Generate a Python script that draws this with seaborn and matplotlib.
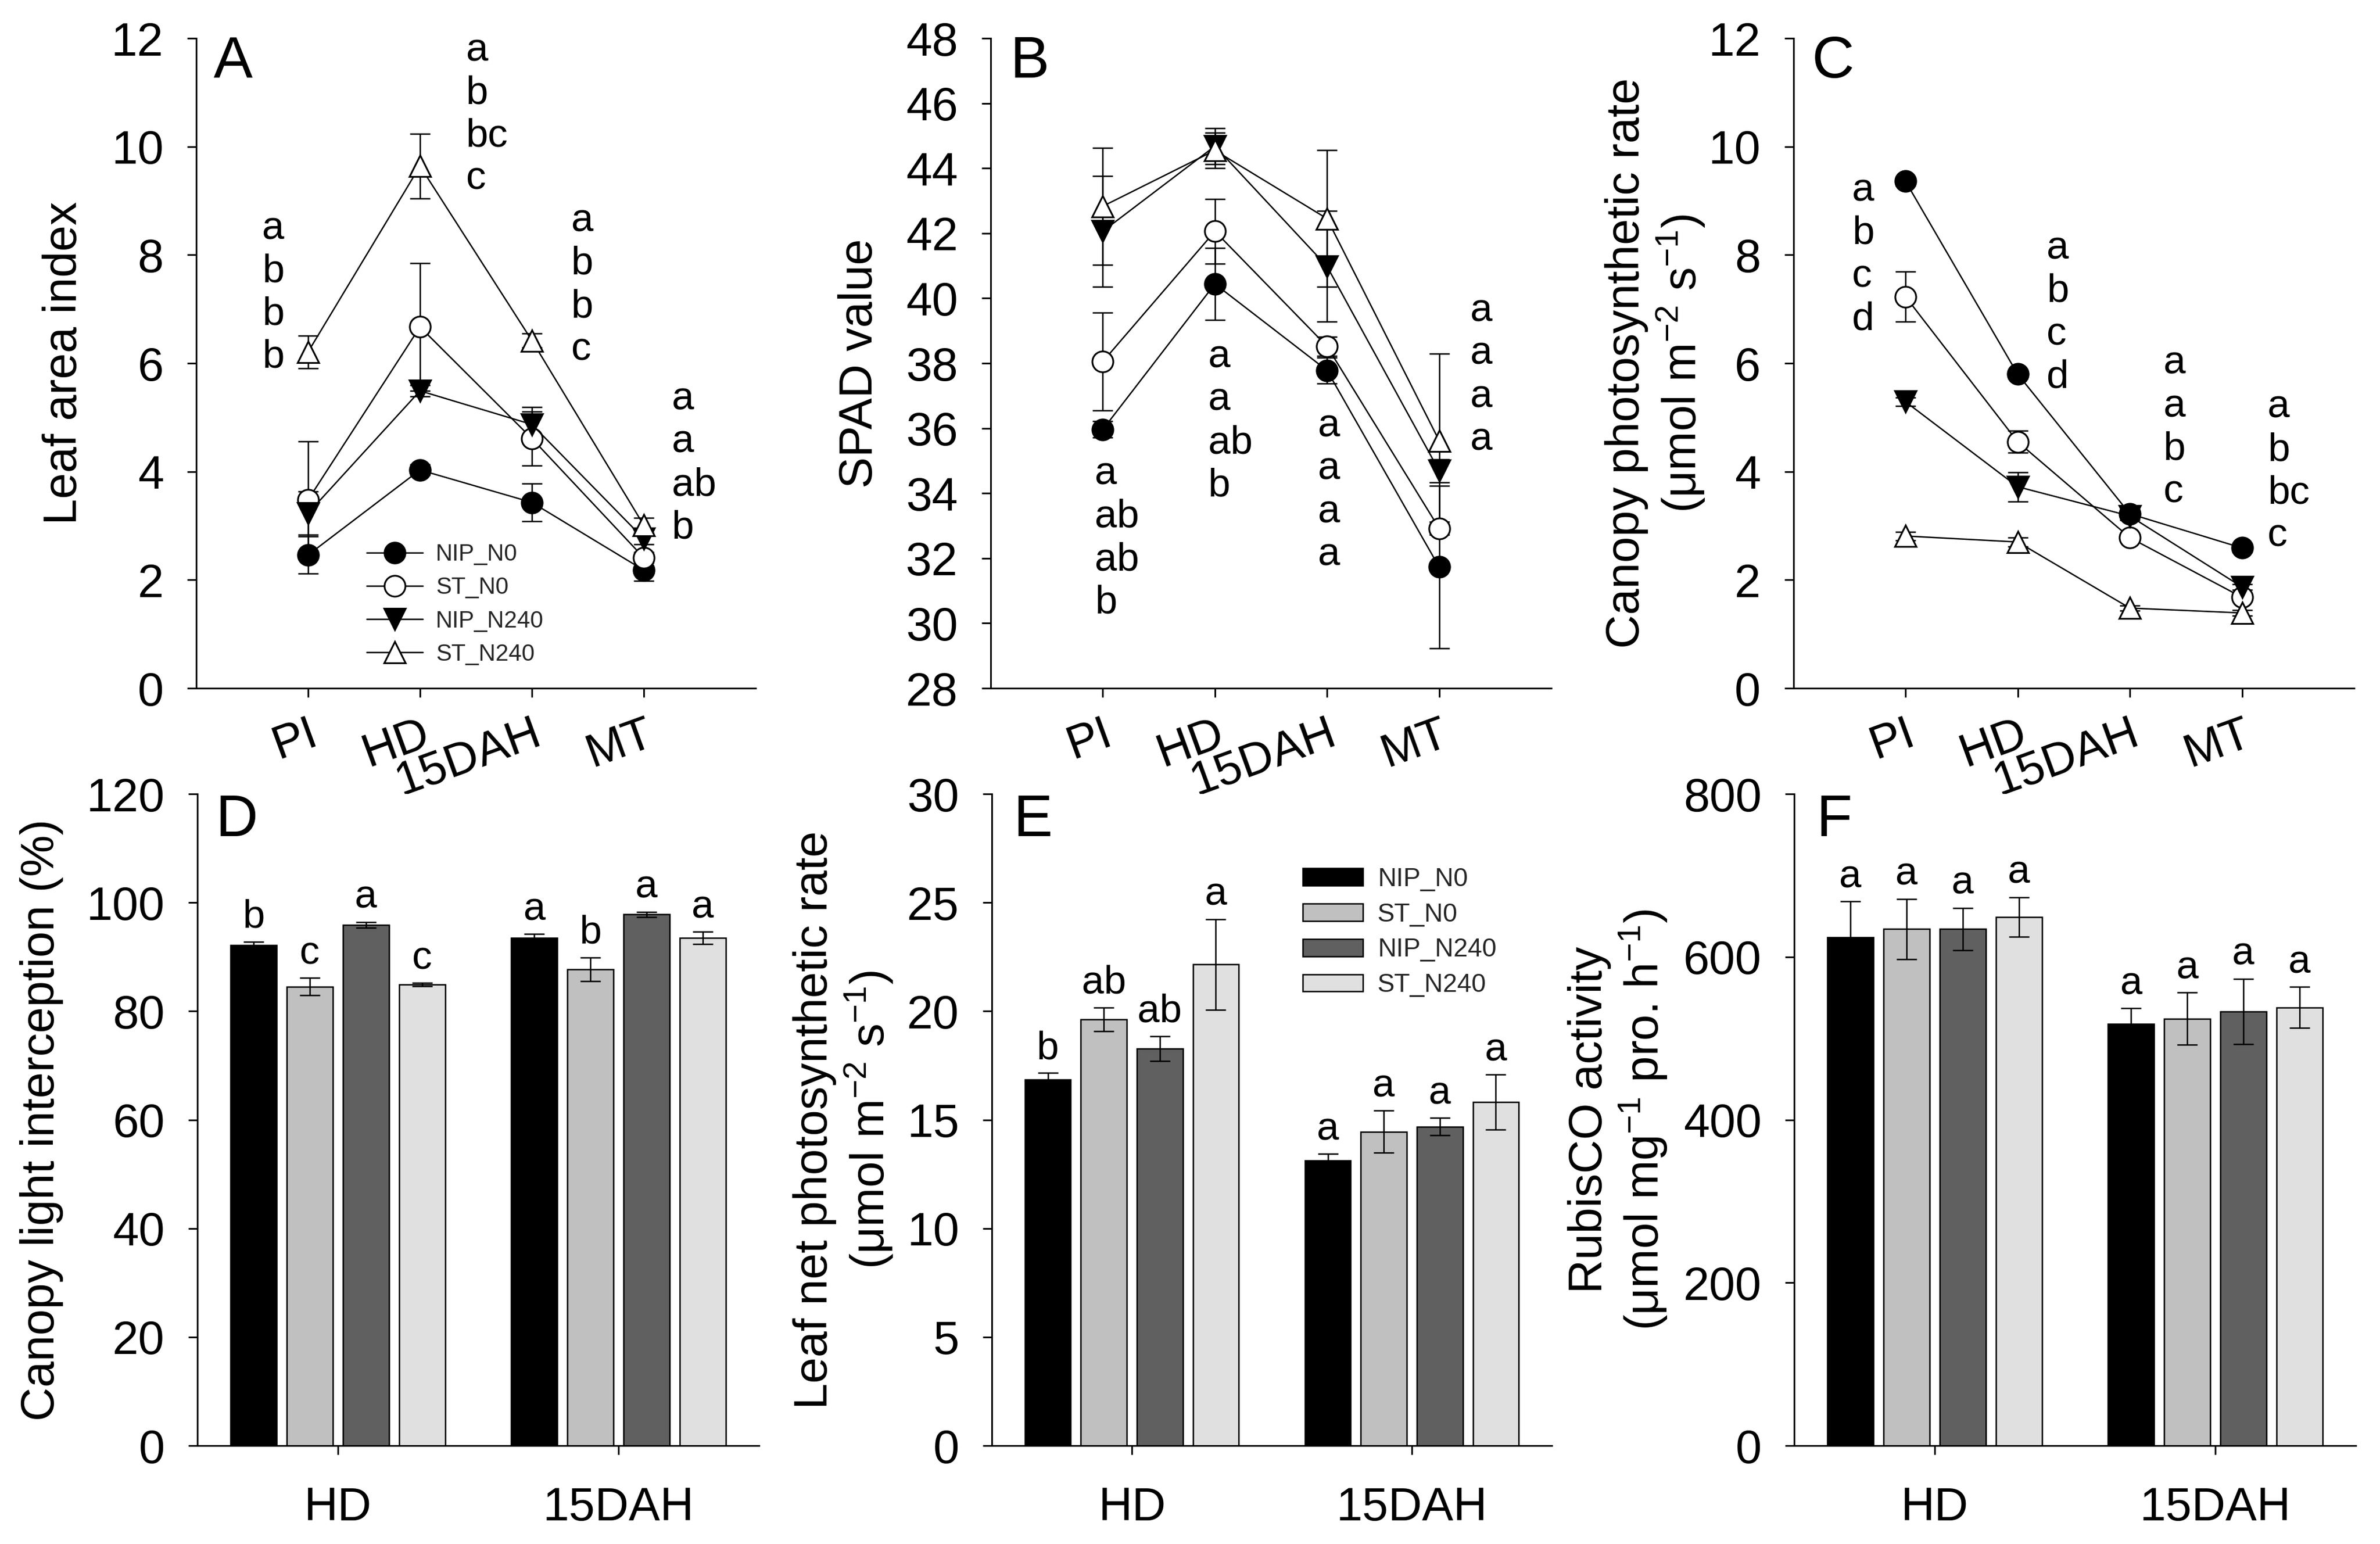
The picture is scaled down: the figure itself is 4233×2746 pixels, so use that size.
import numpy as np
import pandas as pd
import matplotlib
matplotlib.use('Agg')
import matplotlib.pyplot as plt
import seaborn as sns
from matplotlib.lines import Line2D
from matplotlib.patches import Patch
from matplotlib.container import BarContainer

sns.set_theme(style='ticks')
plt.rcParams['font.family'] = ['Liberation Sans', 'DejaVu Sans']
plt.rcParams['mathtext.fontset'] = 'custom'
plt.rcParams['mathtext.rm'] = 'Liberation Sans'
plt.rcParams['mathtext.it'] = 'Liberation Sans:italic'
plt.rcParams['mathtext.bf'] = 'Liberation Sans:bold'
plt.rcParams['axes.unicode_minus'] = True

# ---------------- data ----------------
treatments = ['NIP_N0', 'ST_N0', 'NIP_N240', 'ST_N240']
stages = ['PI', 'HD', '15DAH', 'MT']
bar_stages = ['HD', '15DAH']

# Panel A: leaf area index (rows = treatments, cols = stages)
lai_mean = [[2.46, 4.03, 3.43, 2.18],
            [3.48, 6.67, 4.61, 2.41],
            [3.23, 5.49, 4.87, 2.76],
            [6.21, 9.64, 6.42, 3.01]]
lai_err = [[0.34, 0.10, 0.35, 0.20],
           [1.08, 1.18, 0.50, 0.10],
           [0.40, 0.10, 0.32, 0.10],
           [0.30, 0.60, 0.13, 0.14]]
lai_letters = [['a', 'b', 'b', 'b'], ['a', 'b', 'bc', 'c'],
               ['a', 'b', 'b', 'c'], ['a', 'a', 'ab', 'b']]

# Panel B: SPAD value
spad_mean = [[35.96, 40.44, 37.78, 31.73],
             [38.05, 42.06, 38.52, 32.92],
             [42.06, 44.68, 40.98, 34.69],
             [42.83, 44.55, 42.45, 35.62]]
spad_err = [[0.25, 1.10, 0.40, 2.50],
            [1.50, 1.00, 0.30, 0.20],
            [1.70, 0.55, 1.70, 0.35],
            [1.80, 0.55, 2.10, 2.67]]
spad_letters = [['a', 'ab', 'ab', 'b'], ['a', 'a', 'ab', 'b'],
                ['a', 'a', 'a', 'a'], ['a', 'a', 'a', 'a']]

# Panel C: canopy photosynthetic rate
cpr_mean = [[9.36, 5.80, 3.22, 2.59],
            [7.23, 4.55, 2.78, 1.68],
            [5.29, 3.72, 3.18, 1.87],
            [2.81, 2.70, 1.48, 1.39]]
cpr_err = [[0.08, 0.08, 0.08, 0.08],
           [0.46, 0.20, 0.05, 0.05],
           [0.08, 0.27, 0.08, 0.05],
           [0.08, 0.08, 0.05, 0.05]]
cpr_letters = [['a', 'b', 'c', 'd'], ['a', 'b', 'c', 'd'],
               ['a', 'a', 'b', 'c'], ['a', 'b', 'bc', 'c']]

# Panel D: canopy light interception (rows = treatments, cols = HD, 15DAH)
cli_mean = [[92.1, 93.5], [84.5, 87.7], [95.9, 97.8], [84.9, 93.5]]
cli_err = [[0.7, 0.7], [1.6, 2.2], [0.5, 0.5], [0.3, 1.1]]
cli_letters = [['b', 'a'], ['c', 'b'], ['a', 'a'], ['c', 'a']]

# Panel E: leaf net photosynthetic rate
pn_mean = [[16.85, 13.13], [19.62, 14.45], [18.28, 14.68], [22.15, 15.81]]
pn_err = [[0.30, 0.30], [0.55, 0.97], [0.57, 0.40], [2.08, 1.27]]
pn_letters = [['b', 'a'], ['ab', 'a'], ['ab', 'a'], ['a', 'a']]

# Panel F: RubisCO activity
rub_mean = [[624, 518], [634, 524], [634, 533], [649, 538]]
rub_err = [[44, 19], [37, 32], [26, 40], [24, 25]]
rub_letters = [['a', 'a'], ['a', 'a'], ['a', 'a'], ['a', 'a']]

# ---------------- styles / layout ----------------
bar_colors = ['#000000', '#C0C0C0', '#606060', '#E0E0E0']
line_markers = ['o', 'o', 'v', '^']
marker_faces = ['black', 'white', 'black', 'white']

TICK_FS = 20
LABEL_FS = 20
PANEL_FS = 25
LETTER_FS = 17
LW = 0.6

W, H = 4233, 2746
fig = plt.figure(figsize=(W / 300, H / 300), dpi=300)

def px_axes(l, t, r, b):
    return fig.add_axes([l / W, 1 - b / H, (r - l) / W, (b - t) / H])

axA = px_axes(349, 68, 1344, 1224)
axB = px_axes(1762, 68, 2759, 1224)
axC = px_axes(3189.5, 68, 4187, 1224)
axD = px_axes(351, 1412, 1350, 2571)
axE = px_axes(1764, 1412, 2760, 2571)
axF = px_axes(3191, 1412, 4190, 2571)


def style_axes(ax):
    sns.despine(ax=ax)
    for s in ['left', 'bottom']:
        ax.spines[s].set_linewidth(0.7)
        ax.spines[s].set_color('black')
    ax.tick_params(axis='both', direction='out', length=3.9, width=0.7,
                   colors='black', labelsize=TICK_FS)
    ax.tick_params(axis='y', pad=10)
    ax.set_facecolor('white')
    ax.grid(False)


def add_panel_letter(ax, panel):
    ax.text(panel[1], panel[2], panel[0], transform=ax.transAxes,
            fontsize=PANEL_FS, va='top', ha='left', color='black')


def line_panel(ax, means, errs, letters, letter_xy, ylim, yticks, ylabel,
               panel, ylabel_x, legend=False):
    xpos = np.arange(1, len(stages) + 1)
    for i, t in enumerate(treatments):
        ax.errorbar(xpos, means[i], yerr=errs[i], fmt='none', ecolor='black',
                    elinewidth=LW, capsize=4.4, capthick=LW, zorder=1.5)
        sns.lineplot(x=xpos, y=means[i], ax=ax, color='black', linewidth=LW,
                     marker=line_markers[i], markersize=8.9,
                     markerfacecolor=marker_faces[i], markeredgecolor='black',
                     markeredgewidth=0.75, zorder=2 + i * 0.1, legend=False)
    style_axes(ax)
    ax.set_xlim(0, 5)
    ax.set_ylim(*ylim)
    ax.set_yticks(yticks)
    ax.set_xticks(xpos)
    ax.set_xticklabels(stages, rotation=20, ha='right', va='top',
                       rotation_mode='anchor')
    ax.tick_params(axis='x', pad=6)
    ax.set_xlabel('')
    ax.set_ylabel(ylabel, fontsize=LABEL_FS, color='black', linespacing=1.15)
    ax.yaxis.set_label_coords(ylabel_x, 0.5)
    add_panel_letter(ax, panel)
    for (lx, ly), col in zip(letter_xy, letters):
        for k, s in enumerate(col):
            ax.annotate(s, (lx, ly), xytext=(0, -18.3 * k),
                        textcoords='offset points', ha='left', va='center',
                        fontsize=LETTER_FS, color='black')
    if legend:
        handles = [Line2D([], [], color='black', linewidth=LW,
                          marker=line_markers[i], markersize=8.9,
                          markerfacecolor=marker_faces[i],
                          markeredgecolor='black', markeredgewidth=0.75)
                   for i in range(len(treatments))]
        ax.legend(handles, treatments, loc='upper left',
                  bbox_to_anchor=(0.3045, 0.223), frameon=False, fontsize=10,
                  handlelength=2.4, handletextpad=0.55, labelspacing=0.46,
                  borderpad=0, borderaxespad=0)


def bar_panel(ax, means, errs, letters, ylim, yticks, ylabel, panel,
              ylabel_x, legend=False):
    rows = []
    for i, t in enumerate(treatments):
        for j, s in enumerate(bar_stages):
            rows.append({'stage': s, 'treatment': t, 'value': means[i][j]})
    df = pd.DataFrame(rows)
    sns.barplot(data=df, x='stage', y='value', hue='treatment',
                order=bar_stages, hue_order=treatments,
                palette=dict(zip(treatments, bar_colors)), saturation=1,
                edgecolor='black', linewidth=LW, errorbar=None,
                width=0.8, gap=0.18, ax=ax, legend=False)
    bar_conts = [c for c in ax.containers if isinstance(c, BarContainer)]
    for i, cont in enumerate(bar_conts):
        bars = sorted([b for b in cont if b is not None], key=lambda b: b.get_x())
        xs = [b.get_x() + b.get_width() / 2 for b in bars]
        ys = [b.get_height() for b in bars]
        ax.errorbar(xs, ys, yerr=errs[i], fmt='none', ecolor='black',
                    elinewidth=LW, capsize=4.4, capthick=LW, zorder=3)
        for x, y, e, s in zip(xs, ys, errs[i], letters[i]):
            ax.annotate(s, (x, y + e), xytext=(0, 6),
                        textcoords='offset points', ha='center',
                        va='baseline', fontsize=LETTER_FS, color='black')
    style_axes(ax)
    ax.set_xlim(-0.5, 1.5)
    ax.set_ylim(*ylim)
    ax.set_yticks(yticks)
    ax.tick_params(axis='x', pad=13.4)
    ax.set_xlabel('')
    ax.set_ylabel(ylabel, fontsize=LABEL_FS, color='black', linespacing=1.15)
    ax.yaxis.set_label_coords(ylabel_x, 0.5)
    add_panel_letter(ax, panel)
    if legend:
        handles = [Patch(facecolor=bar_colors[i], edgecolor='black',
                         linewidth=LW) for i in range(len(treatments))]
        ax.legend(handles, treatments, loc='upper left',
                  bbox_to_anchor=(0.555, 0.888), frameon=False, fontsize=11,
                  handlelength=2.34, handleheight=0.65, handletextpad=0.57,
                  labelspacing=0.41, borderpad=0, borderaxespad=0)


line_panel(axA, lai_mean, lai_err, lai_letters,
           [(0.59, 8.48), (2.41, 11.77), (3.35, 8.62), (4.25, 5.33)],
           (0, 12), np.arange(0, 13, 2), 'Leaf area index', ('A', 0.031, 1.004),
           -0.197, legend=True)
line_panel(axB, spad_mean, spad_err, spad_letters,
           [(0.93, 34.58), (1.94, 38.18), (2.92, 36.05), (4.28, 39.6)],
           (28, 48), np.arange(28, 49, 2), 'SPAD value', ('B', 0.035, 1.004),
           -0.195)
line_panel(axC, cpr_mean, cpr_err, cpr_letters,
           [(0.525, 9.18), (2.26, 8.11), (3.30, 5.99), (4.23, 5.18)],
           (0, 12), np.arange(0, 13, 2),
           'Canopy photosynthetic rate\n(μmol m$^{-2}$ s$^{-1}$)',
           ('C', 0.033, 1.004), -0.154)

bar_panel(axD, cli_mean, cli_err, cli_letters, (0, 120), np.arange(0, 121, 20),
          'Canopy light interception (%)', ('D', 0.033, 1.0), -0.238)
bar_panel(axE, pn_mean, pn_err, pn_letters, (0, 30), np.arange(0, 31, 5),
          'Leaf net photosynthetic rate\n(μmol m$^{-2}$ s$^{-1}$)',
          ('E', 0.039, 1.0), -0.173, legend=True)
bar_panel(axF, rub_mean, rub_err, rub_letters, (0, 800), np.arange(0, 801, 200),
          'RubisCO activity\n(μmol mg$^{-1}$ pro. h$^{-1}$)', ('F', 0.040, 1.0),
          -0.222)

fig.savefig('out.png', dpi=300, facecolor='white')
